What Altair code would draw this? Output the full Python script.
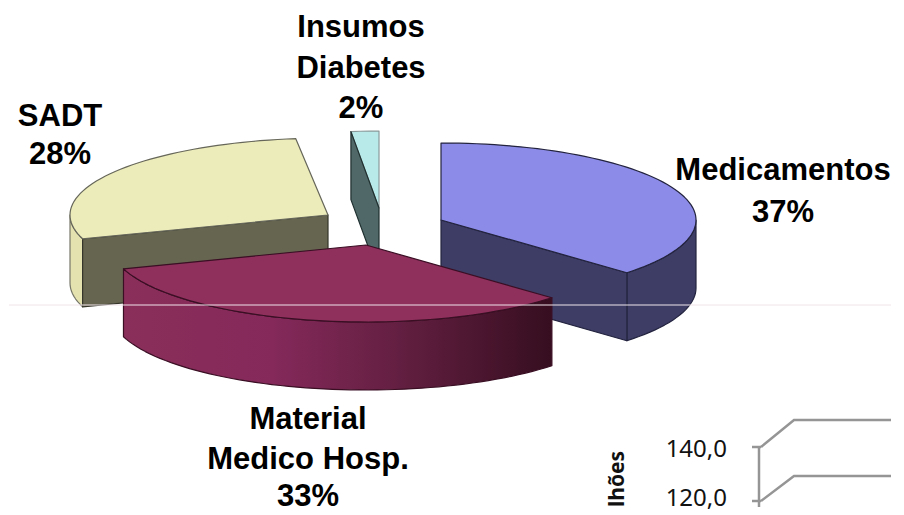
import math
import altair as alt
import pandas as pd

# ---- chart values ----
slices = ["Medicamentos", "Material Medico Hosp.", "SADT", "Insumos Diabetes"]
shares = [37, 33, 28, 2]
label_lines = [["Medicamentos", "37%"], ["Material", "Medico Hosp.", "33%"],
               ["SADT", "28%"], ["Insumos", "Diabetes", "2%"]]
axis_ticks = ["140,0", "120,0"]
axis_title = "lhões"

# ---- layout (pixels of the 904x515 frame; the page margin keeps some room free all round) ----
M = 8
LEFT, RIGHT, TOP, BOTTOM = M, 890, M, 507
RY, DEPTH = 77, 68
GEOM = {
    "Medicamentos": dict(cx=440, cy=220, rx=255),
    "Material Medico Hosp.": dict(cx=365, cy=245, rx=255),
    "SADT": dict(cx=327, cy=215, rx=258),
    "Insumos Diabetes": dict(cx=378, cy=208, rx=224),
}
LABEL_POS = {
    "Medicamentos": (782, [180, 222]),
    "Material Medico Hosp.": (307, [429, 469, 506]),
    "SADT": (59, [126, 164]),
    "Insumos Diabetes": (360, [37, 78, 118]),
}
FILLS = {
    "Medicamentos": dict(top="#8C8CE8", cut="#3D3D66", wall="#3D3D66", edge="#23233f"),
    "Material Medico Hosp.": dict(top="#8E2F5C", cut="#8E2F5C", edge="#3a0f24"),
    "SADT": dict(top="#ECECBA", cut="#666650", wall="#E4E2AE", edge="#35352a"),
    "Insumos Diabetes": dict(top="#B8EAEA", cut="#506868", edge="#1f2f2f"),
}
wall_gradient = alt.Gradient(
    gradient="linear", x1=0, x2=1, y1=0, y2=0,
    stops=[alt.GradientStop(offset=0, color="#8A2E5A"),
           alt.GradientStop(offset=0.35, color="#84295A"),
           alt.GradientStop(offset=0.62, color="#662043"),
           alt.GradientStop(offset=1, color="#360E20")],
)

X = alt.X("x:Q", scale=alt.Scale(domain=[LEFT, RIGHT], range=[0, RIGHT - LEFT]), axis=None)
Y = alt.Y("y:Q", scale=alt.Scale(domain=[TOP, BOTTOM], range=[0, BOTTOM - TOP]), axis=None)


def pt(g, deg, drop=0):
    t = math.radians(deg)
    return (g["cx"] + g["rx"] * math.sin(t), g["cy"] - RY * math.cos(t) + drop)


def arc(g, a, b, drop=0):
    n = max(2, int(abs(b - a) / 2) + 1)
    return [pt(g, a + (b - a) * i / (n - 1), drop) for i in range(n)]


def poly(points, fill, stroke, width=1.2):
    df = pd.DataFrame({"x": [p[0] for p in points], "y": [p[1] for p in points],
                       "i": list(range(len(points)))})
    return alt.Chart(df).mark_line(
        fill=fill, stroke=stroke, strokeWidth=width, interpolate="linear-closed",
        strokeJoin="round", clip=False,
    ).encode(x=X, y=Y, order=alt.Order("i:Q"))


# angles of every slice follow from the shares, clockwise from 12 o'clock
angles = {}
a0 = 0.0
for name, s in zip(slices, shares):
    angles[name] = (a0, a0 + s * 3.6)
    a0 += s * 3.6

layers = []

# SADT
g, (a, b), c = GEOM["SADT"], angles["SADT"], FILLS["SADT"]
apex = (g["cx"], g["cy"])
layers.append(poly(arc(g, a, 270) + arc(g, 270, a, DEPTH), c["wall"], "#77776a"))
s_pt = pt(g, a)
layers.append(poly([apex, s_pt, (s_pt[0], s_pt[1] + DEPTH), (apex[0], apex[1] + DEPTH)],
                   c["cut"], c["edge"]))
layers.append(poly([apex] + arc(g, a, b), c["top"], "#66665a"))

# Insumos Diabetes
g, (a, b), c = GEOM["Insumos Diabetes"], angles["Insumos Diabetes"], FILLS["Insumos Diabetes"]
apex = (g["cx"], g["cy"])
layers.append(poly([apex] + arc(g, a, b), c["top"], "#8a9a9a"))
s_pt = pt(g, a)
layers.append(poly([apex, s_pt, (s_pt[0], s_pt[1] + DEPTH), (apex[0], apex[1] + DEPTH)],
                   c["cut"], c["edge"]))

# Medicamentos
g, (a, b), c = GEOM["Medicamentos"], angles["Medicamentos"], FILLS["Medicamentos"]
apex = (g["cx"], g["cy"])
layers.append(poly(arc(g, 90, b) + arc(g, b, 90, DEPTH), c["wall"], c["edge"]))
e_pt = pt(g, b)
layers.append(poly([apex, e_pt, (e_pt[0], e_pt[1] + DEPTH), (apex[0], apex[1] + DEPTH)],
                   c["cut"], c["edge"]))
layers.append(poly([apex] + arc(g, a, b), c["top"], c["edge"]))

# Material Medico Hosp.
g, (a, b), c = GEOM["Material Medico Hosp."], angles["Material Medico Hosp."], FILLS["Material Medico Hosp."]
apex = (g["cx"], g["cy"])
layers.append(poly(arc(g, a, b) + arc(g, b, a, DEPTH), wall_gradient, c["edge"]))
layers.append(poly([apex] + arc(g, a, b), c["top"], c["edge"]))

# faint horizontal line crossing the whole picture
rule_df = pd.DataFrame({"y": [305]})
layers.append(alt.Chart(rule_df).mark_rule(color="#F0E4EA", strokeWidth=1).encode(y=Y))

# labels
rows = []
for name, lines in zip(slices, label_lines):
    lx, ys = LABEL_POS[name]
    for line, ly in zip(lines, ys):
        rows.append({"x": lx, "y": ly, "t": line})
layers.append(alt.Chart(pd.DataFrame(rows)).mark_text(
    font="Liberation Sans", fontWeight="bold", fontSize=31, color="#000000",
    align="center", baseline="alphabetic",
).encode(x=X, y=Y, text="t:N"))

# fragment of a second chart in the lower right corner
AX = "#959595"
grid_rows = [(447, 420), (501, 476)]
for low, high in grid_rows:
    layers.append(alt.Chart(pd.DataFrame({"x": [760, 793, RIGHT], "y": [low, high, high], "i": [0, 1, 2]}))
                  .mark_line(color=AX, strokeWidth=2.5).encode(x=X, y=Y, order="i:Q"))
    layers.append(alt.Chart(pd.DataFrame({"x": [751, 760], "y": [low, low], "i": [0, 1]}))
                  .mark_line(color=AX, strokeWidth=2.5).encode(x=X, y=Y, order="i:Q"))
layers.append(alt.Chart(pd.DataFrame({"x": [758, 758], "y": [447, BOTTOM], "i": [0, 1]}))
              .mark_line(color=AX, strokeWidth=2.5).encode(x=X, y=Y, order="i:Q"))
layers.append(alt.Chart(pd.DataFrame({"x": [726, 726], "y": [457, 506], "t": axis_ticks})).mark_text(
    font="Noto Sans", fontSize=24, color="#111111", align="right", baseline="alphabetic",
).encode(x=X, y=Y, text="t:N"))
layers.append(alt.Chart(pd.DataFrame({"x": [623], "y": [507], "t": [axis_title]})).mark_text(
    font="Noto Sans", fontWeight="bold", fontSize=21, color="#111111", angle=270,
    align="left", baseline="alphabetic",
).encode(x=X, y=Y, text="t:N"))

chart = alt.layer(*layers).properties(
    width=RIGHT - LEFT, height=BOTTOM - TOP, padding=0, background="white",
).configure_view(stroke=None)

chart.save("out.html", embed_options={"renderer": "svg", "actions": False})
